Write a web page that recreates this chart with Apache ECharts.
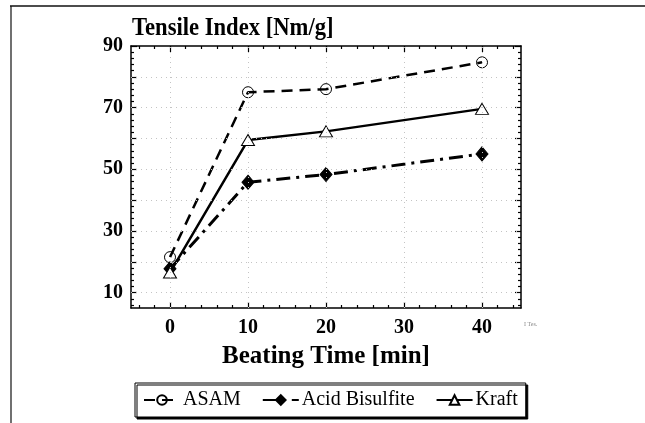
<!DOCTYPE html>
<html>
<head>
<meta charset="utf-8">
<script src="https://cdn.jsdelivr.net/npm/echarts@6/dist/echarts.min.js"></script>
<style>
  html, body { margin: 0; padding: 0; background: #fff; }
  #chart { width: 645px; height: 423px; }
</style>
</head>
<body>
<div id="chart"></div>
<script>
// Beating time (min) and tensile index (Nm/g) per pulp type
var minutes = [0, 10, 20, 40];
var asam = [21.5, 75, 76, 84.7];
var acidBisulfite = [17.7, 45.8, 48.3, 55];
var kraft = [16.5, 59.5, 62.3, 69.6];

// Axis ranges, labels and tick positions
var xRange = [-5, 45];
var yRange = [5, 90];
var xLabels = [0, 10, 20, 30, 40];
var yLabels = [10, 30, 50, 70, 90];
var xMajor = [0, 10, 20, 30, 40];
var yMajor = [10, 20, 30, 40, 50, 60, 70, 80, 90];
var xMinor = [-4, -2, 2, 4, 6, 8, 12, 14, 16, 18, 22, 24, 26, 28, 32, 34, 36, 38, 42, 44];
var yMinor = [6, 8, 12, 14, 16, 18, 22, 24, 26, 28, 32, 34, 36, 38, 42, 44, 46, 48,
              52, 54, 56, 58, 62, 64, 66, 68, 72, 74, 76, 78, 82, 84, 86, 88];
var xGrid = [0, 10, 20, 30, 40];
var yGrid = [10, 20, 30, 40, 50, 60, 70, 80];

var serif = 'Liberation Serif';
var black = '#000';

function pairs(ys) {
  return minutes.map(function (m, i) { return [m, ys[i]]; });
}

function xAxisDef(pos, ticks, len, showLine, labels) {
  return {
    type: 'value', position: pos, min: xRange[0], max: xRange[1],
    axisLine: { show: showLine, onZero: false, lineStyle: { color: black, width: 1.5 } },
    axisTick: { show: true, inside: true, length: len, customValues: ticks,
                lineStyle: { color: black, width: 1.2 } },
    axisLabel: labels ? { show: true, customValues: labels, color: black, margin: 10,
                          fontFamily: serif, fontWeight: 'bold', fontSize: 20 } : { show: false },
    splitLine: { show: false }
  };
}
function yAxisDef(pos, ticks, len, showLine, labels) {
  return {
    type: 'value', position: pos, min: yRange[0], max: yRange[1],
    axisLine: { show: showLine, onZero: false, lineStyle: { color: black, width: 1.5 } },
    axisTick: { show: true, inside: true, length: len, customValues: ticks,
                lineStyle: { color: black, width: 1.2 } },
    axisLabel: labels ? { show: true, customValues: labels, color: black, margin: 8,
                          fontFamily: serif, fontWeight: 'bold', fontSize: 20 } : { show: false },
    splitLine: { show: false }
  };
}

var xMain = xAxisDef('bottom', xMajor, 6, true, xLabels);
xMain.name = 'Beating Time [min]';
xMain.nameLocation = 'middle';
xMain.nameGap = 36;
xMain.nameTextStyle = { fontFamily: serif, fontWeight: 'bold', fontSize: 25, color: black };

var gridLines = [];
xGrid.forEach(function (v) { gridLines.push({ xAxis: v }); });
yGrid.forEach(function (v) { gridLines.push({ yAxis: v }); });

var chart = echarts.init(document.getElementById('chart'), null, { renderer: 'canvas' });
chart.setOption({
  animation: false,
  backgroundColor: '#fff',
  grid: { left: 131, top: 46, right: 124, bottom: 115, containLabel: false },
  xAxis: [
    xMain,
    xAxisDef('bottom', xMinor, 3, false, null),
    xAxisDef('top', xMajor, 6, true, null),
    xAxisDef('top', xMinor, 3, false, null)
  ],
  yAxis: [
    yAxisDef('left', yMajor, 6, true, yLabels),
    yAxisDef('left', yMinor, 3, false, null),
    yAxisDef('right', yMajor, 6, true, null),
    yAxisDef('right', yMinor, 3, false, null)
  ],
  legend: {
    left: 135, top: 383,
    orient: 'horizontal',
    itemWidth: 36, itemHeight: 12, itemGap: 21,
    padding: [7, 8, 7, 8],
    borderColor: black, borderWidth: 1, borderRadius: 0,
    backgroundColor: '#fff',
    shadowColor: black, shadowBlur: 0, shadowOffsetX: 2, shadowOffsetY: 2,
    textStyle: { fontFamily: serif, fontSize: 20, color: black, padding: [0, 0, 0, -2] },
    data: ['ASAM', 'Acid Bisulfite', 'Kraft']
  },
  graphic: [
    { type: 'line', shape: { x1: 10, y1: 6, x2: 645, y2: 6 }, style: { stroke: '#111', lineWidth: 1.5 } },
    { type: 'line', shape: { x1: 11, y1: 6, x2: 11, y2: 423 }, style: { stroke: '#111', lineWidth: 1.2 } },
    // chart title, set in a slightly condensed bold serif
    { type: 'text', x: 132, y: 15, scaleX: 0.87,
      style: { text: 'Tensile Index [Nm/g]', fill: black, font: 'bold 26px ' + serif } },
    { type: 'text', left: 524, top: 321, style: { text: 'I Tes.', fill: '#888', font: '6px ' + serif } }
  ],
  series: [
    {
      name: 'ASAM', type: 'line', xAxisIndex: 0, yAxisIndex: 0,
      data: pairs(asam),
      symbol: 'circle', symbolSize: 11,
      lineStyle: { color: black, width: 2.5, type: [11, 7] },
      itemStyle: { color: 'rgba(255,255,255,0)', borderColor: black, borderWidth: 1 },
      markLine: {
        silent: true, symbol: 'none', label: { show: false },
        lineStyle: { color: '#c4c4c4', width: 1, type: [1, 4] },
        emphasis: { disabled: true },
        data: gridLines
      },
      z: 3
    },
    {
      name: 'Acid Bisulfite', type: 'line', xAxisIndex: 0, yAxisIndex: 0,
      data: pairs(acidBisulfite),
      symbol: 'diamond', symbolSize: [12, 14],
      lineStyle: { color: black, width: 3, type: [14, 6, 3, 6] },
      itemStyle: { color: black, borderColor: black, borderWidth: 1 },
      z: 3
    },
    {
      name: 'Kraft', type: 'line', xAxisIndex: 0, yAxisIndex: 0,
      data: pairs(kraft),
      symbol: 'triangle', symbolSize: [13, 11],
      lineStyle: { color: black, width: 2.5 },
      itemStyle: { color: '#fff', borderColor: black, borderWidth: 1 },
      z: 4
    }
  ]
});
</script>
</body>
</html>
